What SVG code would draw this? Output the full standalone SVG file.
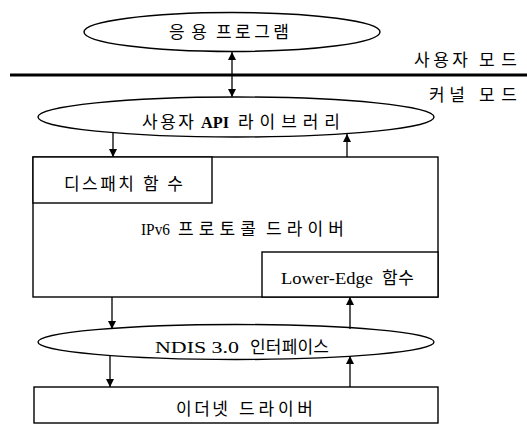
<svg xmlns="http://www.w3.org/2000/svg" width="527" height="424" viewBox="0 0 527 424">
<style>
.s{fill:#fff;stroke:#000;stroke-width:1.4}
.k{font-family:"Noto Sans CJK KR","Liberation Serif",sans-serif;font-size:17px;fill:#000}
.l{font-family:"Liberation Serif","Noto Sans CJK KR",serif;font-size:17px;fill:#000}
.c{stroke:#000;stroke-width:1.3;fill:none}
</style>
<defs>
<marker id="ah" viewBox="0 0 10 10" refX="10" refY="5" markerWidth="8" markerHeight="8" markerUnits="userSpaceOnUse" orient="auto-start-reverse">
<path d="M0,0L10,5L0,10z" fill="#000"/>
</marker>
</defs>
<rect width="527" height="424" fill="#fff"/>
<g id="mode-divider">
<line x1="10" y1="75" x2="527" y2="75" stroke="#000" stroke-width="3"/>
<text class="k" x="414" y="66" textLength="54" lengthAdjust="spacing">사용자</text>
<text class="k" x="479" y="66" textLength="38" lengthAdjust="spacing">모드</text>
<text class="k" x="429" y="101" textLength="36" lengthAdjust="spacing">커널</text>
<text class="k" x="479" y="101" textLength="38" lengthAdjust="spacing">모드</text>
</g>
<g id="app">
<ellipse class="s" cx="232" cy="32" rx="148" ry="19.5"/>
<text class="k" x="169" y="38" textLength="38" lengthAdjust="spacing">응용</text>
<text class="k" x="216" y="38" textLength="73" lengthAdjust="spacing">프로그램</text>
</g>
<g id="api">
<ellipse class="s" cx="236" cy="117" rx="198" ry="20"/>
<text class="k" x="142" y="128" textLength="52" lengthAdjust="spacing">사용자</text>
<text class="l" x="201" y="128" font-weight="bold" textLength="28" lengthAdjust="spacingAndGlyphs">API</text>
<text class="k" x="238" y="128" textLength="102" lengthAdjust="spacing">라이브러리</text>
</g>
<g id="ipv6">
<rect class="s" x="33" y="157" width="405" height="140"/>
<text class="l" x="141" y="235" textLength="29" lengthAdjust="spacingAndGlyphs">IPv6</text>
<text class="k" x="178" y="235" textLength="78" lengthAdjust="spacing">프로토콜</text>
<text class="k" x="266" y="235" textLength="78" lengthAdjust="spacing">드라이버</text>
</g>
<g id="dispatch">
<rect class="s" x="33" y="157" width="179" height="46"/>
<text class="k" x="64" y="190" textLength="70" lengthAdjust="spacing">디스패치</text>
<text class="k" x="143" y="190" textLength="40" lengthAdjust="spacing">함수</text>
</g>
<g id="lower-edge">
<rect class="s" x="262" y="252" width="176" height="45"/>
<text class="l" x="281" y="284" textLength="92" lengthAdjust="spacingAndGlyphs">Lower-Edge</text>
<text class="k" x="382" y="284" textLength="32" lengthAdjust="spacing">함수</text>
</g>
<g id="ndis">
<ellipse class="s" cx="236" cy="342" rx="198" ry="17.5"/>
<text class="l" x="155" y="353" textLength="84" lengthAdjust="spacingAndGlyphs">NDIS 3.0</text>
<text class="k" x="250" y="353" textLength="79" lengthAdjust="spacing">인터페이스</text>
</g>
<g id="ethernet">
<rect class="s" x="34" y="387" width="404" height="36"/>
<text class="k" x="176" y="415" textLength="52" lengthAdjust="spacing">이더넷</text>
<text class="k" x="239" y="415" textLength="74" lengthAdjust="spacing">드라이버</text>
</g>
<g id="connectors">
<line class="c" x1="232" y1="52" x2="232" y2="97" marker-start="url(#ah)" marker-end="url(#ah)"/>
<line class="c" x1="113" y1="133" x2="113" y2="157" marker-end="url(#ah)"/>
<line class="c" x1="347" y1="157" x2="347" y2="134" marker-end="url(#ah)"/>
<line class="c" x1="112" y1="297" x2="112" y2="329" marker-end="url(#ah)"/>
<line class="c" x1="350" y1="329" x2="350" y2="297" marker-end="url(#ah)"/>
<line class="c" x1="110" y1="356" x2="110" y2="387" marker-end="url(#ah)"/>
<line class="c" x1="350" y1="387" x2="350" y2="356" marker-end="url(#ah)"/>
</g>
</svg>
